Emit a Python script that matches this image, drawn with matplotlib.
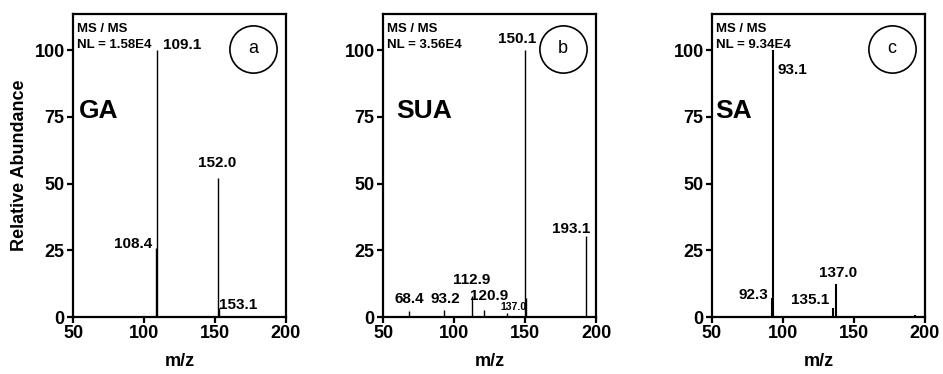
import numpy as np
import matplotlib.pyplot as plt

plt.rcParams['font.family'] = 'Liberation Sans'

# GA panel
ga_mz = [108.4, 109.1, 152.0, 153.1]
ga_int = [25.7, 100, 52, 3.2]
# SUA panel
sua_mz = [68.4, 93.2, 112.9, 120.9, 137.0, 150.1, 151.0, 193.1]
sua_int = [2.3, 2.5, 8.0, 2.5, 1.5, 100, 7.0, 30.5]
# SA panel
sa_mz = [92.3, 93.1, 135.1, 137.0, 193.0]
sa_int = [7.0, 100, 3.2, 12.5, 0.6]

panels = [
    dict(mz=ga_mz, inten=ga_int, name='GA', nl='NL = 1.58E4', letter='a', lw=1.0,
         labels=[('109.1', 127.0, 102, 'center', 11),
                 ('108.4', 106.0, 27.5, 'right', 11),
                 ('152.0', 151.6, 57.5, 'center', 11),
                 ('153.1', 153.0, 4.5, 'left', 11)]),
    dict(mz=sua_mz, inten=sua_int, name='SUA', nl='NL = 3.56E4', letter='b', lw=1.0,
         labels=[('150.1', 144.5, 104, 'center', 11),
                 ('193.1', 182.8, 33, 'center', 11),
                 ('112.9', 112.4, 14, 'center', 11),
                 ('68.4', 68.2, 6.8, 'center', 11),
                 ('93.2', 93.6, 6.8, 'center', 11),
                 ('120.9', 125.0, 7.8, 'center', 11),
                 ('137.0', 141.8, 3.6, 'center', 7.5)]),
    dict(mz=sa_mz, inten=sa_int, name='SA', nl='NL = 9.34E4', letter='c', lw=1.5,
         labels=[('93.1', 106.6, 92.5, 'center', 11),
                 ('92.3', 79.0, 8.2, 'center', 11),
                 ('135.1', 119.4, 6.4, 'center', 11),
                 ('137.0', 139.0, 16.5, 'center', 11)]),
]

fig = plt.figure(figsize=(9.43, 3.74), dpi=100)
lefts = [73 / 943, 383 / 943, 712 / 943]
name_x = [54, 59.6, 52]

for i, p in enumerate(panels):
    ax = fig.add_axes([lefts[i], 57 / 374, 213 / 943, 303 / 374])
    ax.vlines(p['mz'], 0, p['inten'], colors='black', linewidth=p['lw'])
    ax.set_xlim(50, 200)
    ax.set_ylim(0, 113.5)
    ax.set_xticks([50, 100, 150, 200])
    ax.set_yticks([0, 25, 50, 75, 100])
    for s in ax.spines.values():
        s.set_linewidth(1.6)
    ax.tick_params(direction='out', length=4, width=1.6, labelsize=13, pad=2)
    for lab in ax.get_xticklabels() + ax.get_yticklabels():
        lab.set_fontweight('bold')

    for txt, x, y, ha, fs in p['labels']:
        ax.text(x, y, txt, ha=ha, va='center', fontsize=fs, fontweight='bold')

    ax.text(0.02, 0.95, 'MS / MS', transform=ax.transAxes, ha='left', va='center',
            fontsize=9.5, fontweight='bold')
    ax.text(0.02, 0.898, p['nl'], transform=ax.transAxes, ha='left', va='center',
            fontsize=9.5, fontweight='bold')
    ax.text(name_x[i], 77, p['name'], ha='left', va='center', fontsize=19, fontweight='bold')

    ax.plot([0.846], [0.885], transform=ax.transAxes, marker='o', ms=34,
            mfc='none', mec='black', mew=1.2, clip_on=False)
    ax.text(0.846, 0.885, p['letter'], transform=ax.transAxes, ha='center', va='center',
            fontsize=13)

    ax.set_xlabel('m/z', fontsize=13, fontweight='bold')
    ax.xaxis.set_label_coords(0.5, -0.12)
    ax.xaxis.label.set_va('top')
    if i == 0:
        ax.set_ylabel('Relative Abundance', fontsize=13, fontweight='bold')
        ax.yaxis.set_label_coords(-0.21, 0.5)
        ax.yaxis.label.set_va('bottom')

fig.savefig('out.png', dpi=100)
